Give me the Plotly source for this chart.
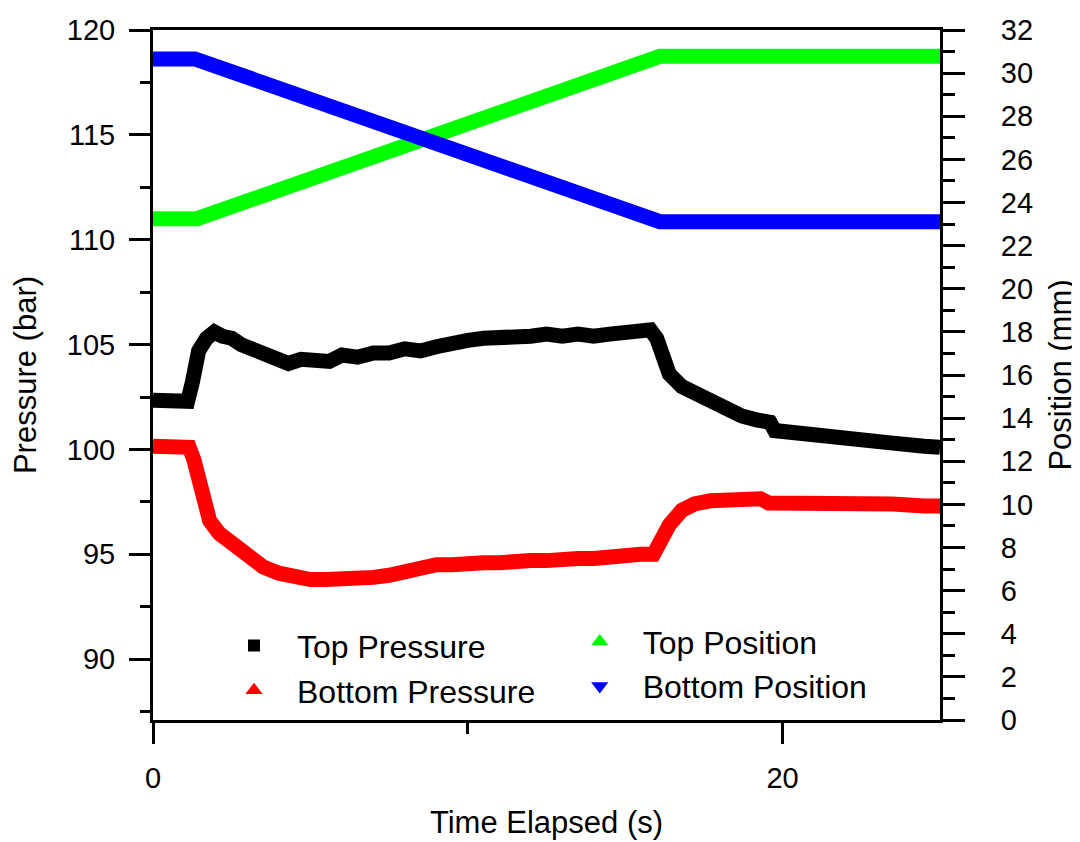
import plotly.graph_objects as go

# ---- data ----
t_top_p = [0, 0.5, 1.1, 1.25, 1.45, 1.7, 1.95, 2.2, 2.5, 2.8, 3.2, 3.6, 4.0, 4.3, 4.7, 5.2, 5.6,
           6.0, 6.5, 7.0, 7.5, 8.0, 8.5, 9.0, 9.5, 10.0, 10.5, 11.0, 11.5, 12.0, 12.5, 13.0,
           13.5, 14.0, 14.5, 15.0, 15.5, 15.8, 16.0, 16.2, 16.4, 16.8, 17.2, 17.7, 18.2, 18.7,
           19.2, 19.6, 19.75, 20.5, 21.5, 22.5, 23.5, 24.5, 25.0]
top_pressure = [102.35, 102.3, 102.3, 103.2, 104.7, 105.3, 105.6, 105.4, 105.3, 105.0, 104.8, 104.5,
                104.4, 104.1, 104.3, 104.3, 104.2, 104.5, 104.4, 104.6, 104.6, 104.8, 104.7, 104.9,
                105.1, 105.2, 105.3, 105.3, 105.4, 105.4, 105.5, 105.4, 105.5, 105.4, 105.5, 105.6,
                105.6, 105.7, 105.3, 104.2, 103.6, 103.0, 102.7, 102.2, 101.9, 101.6, 101.4, 101.3,
                100.9, 100.75, 100.55, 100.4, 100.3, 100.15, 100.1]

t_bot_p = [0, 0.6, 1.15, 1.3, 1.45, 1.6, 1.8, 2.1, 2.5, 3.0, 3.5, 4.0, 4.5, 5.0, 5.5, 6.0, 6.5,
           7.0, 7.5, 8.0, 8.5, 9.0, 9.5, 10.0, 10.5, 11.0, 11.5, 12.0, 12.5, 13.0, 13.5, 14.0,
           14.5, 15.0, 15.5, 15.9, 16.1, 16.4, 16.8, 17.2, 17.7, 18.2, 18.7, 19.3, 19.55, 20.5,
           21.5, 22.5, 23.5, 24.5, 25.0]
bottom_pressure = [100.15, 100.15, 100.1, 99.5, 98.4, 97.3, 96.6, 96.0, 95.5, 94.9, 94.4, 94.1,
                   93.9, 93.8, 93.8, 93.8, 93.85, 93.9, 94.0, 94.2, 94.4, 94.5, 94.5, 94.6, 94.6,
                   94.6, 94.7, 94.7, 94.7, 94.8, 94.8, 94.8, 94.9, 94.9, 95.0, 95.0, 95.6, 96.4,
                   97.1, 97.4, 97.55, 97.6, 97.65, 97.65, 97.45, 97.45, 97.5, 97.45, 97.4, 97.3, 97.3]

t_top_pos = [0, 1.4, 16.1, 25]
top_position = [23.25, 23.25, 30.78, 30.78]

t_bot_pos = [0, 1.33, 16.1, 25]
bottom_position = [30.66, 30.66, 23.11, 23.11]

FONT = "Liberation Sans, Arial, sans-serif"
LW = 15

fig = go.Figure()

# data bands (thick lines)
fig.add_trace(go.Scatter(x=t_top_p, y=top_pressure, mode="lines",
                         line=dict(color="#000000", width=LW), showlegend=False, yaxis="y"))
fig.add_trace(go.Scatter(x=t_bot_p, y=bottom_pressure, mode="lines",
                         line=dict(color="#ff0000", width=LW), showlegend=False, yaxis="y"))
fig.add_trace(go.Scatter(x=t_top_pos, y=top_position, mode="lines",
                         line=dict(color="#00ff00", width=LW), showlegend=False, yaxis="y2"))
fig.add_trace(go.Scatter(x=t_bot_pos, y=bottom_position, mode="lines",
                         line=dict(color="#0000ff", width=LW), showlegend=False, yaxis="y2"))

# legend entries
fig.add_trace(go.Scatter(x=[None], y=[None], mode="markers", name="Top Pressure",
                         marker=dict(symbol="square", color="#000000", size=12), legend="legend"))
fig.add_trace(go.Scatter(x=[None], y=[None], mode="markers", name="Bottom Pressure",
                         marker=dict(symbol="triangle-up", color="#ff0000", size=15), legend="legend"))
fig.add_trace(go.Scatter(x=[None], y=[None], mode="markers", name="Top Position",
                         marker=dict(symbol="triangle-up", color="#00ff00", size=15), legend="legend2"))
fig.add_trace(go.Scatter(x=[None], y=[None], mode="markers", name="Bottom Position",
                         marker=dict(symbol="triangle-down", color="#0000ff", size=15), legend="legend2"))

axis_common = dict(showline=True, linecolor="black", linewidth=3, ticks="outside",
                   tickwidth=3, tickcolor="black", showgrid=False, zeroline=False,
                   automargin=False,
                   tickfont=dict(family=FONT, size=29, color="black"))

fig.update_layout(
    width=1080, height=842,
    margin=dict(l=145, r=148, t=22, b=130),
    paper_bgcolor="white", plot_bgcolor="white",
    font=dict(family=FONT, color="black"),
    xaxis=dict(range=[0, 25], tickvals=[0, 20], ticklen=21, mirror=True, ticklabelstandoff=9,
               minor=dict(tickvals=[10], ticklen=11, tickwidth=3, tickcolor="black", ticks="outside"),
               title=dict(text="Time Elapsed (s)", font=dict(family=FONT, size=31), standoff=19),
               **axis_common),
    yaxis=dict(range=[87.1, 120], tickvals=[90, 95, 100, 105, 110, 115, 120], ticklen=21,
               ticklabelstandoff=8,
               minor=dict(tickvals=[87.5, 92.5, 97.5, 102.5, 107.5, 112.5, 117.5], ticklen=10,
                          tickwidth=3, tickcolor="black", ticks="outside"),
               title=dict(text="Pressure (bar)", font=dict(family=FONT, size=31), standoff=26),
               **axis_common),
    yaxis2=dict(range=[0, 32], overlaying="y", side="right", dtick=2, ticklen=22,
                ticklabelstandoff=30,
                minor=dict(dtick=1, ticklen=12, tickwidth=3, tickcolor="black", ticks="outside"),
                title=dict(text="Position (mm)", font=dict(family=FONT, size=31), standoff=18),
                **axis_common),
    legend=dict(x=0.0737, y=0.075, xanchor="left", yanchor="middle", bgcolor="rgba(0,0,0,0)",
                font=dict(family=FONT, size=32, color="black"), itemwidth=76, tracegroupgap=0),
    legend2=dict(x=0.513, y=0.081, xanchor="left", yanchor="middle", bgcolor="rgba(0,0,0,0)",
                 font=dict(family=FONT, size=32, color="black"), itemwidth=76, tracegroupgap=0),
)

fig.write_html("out.html")
